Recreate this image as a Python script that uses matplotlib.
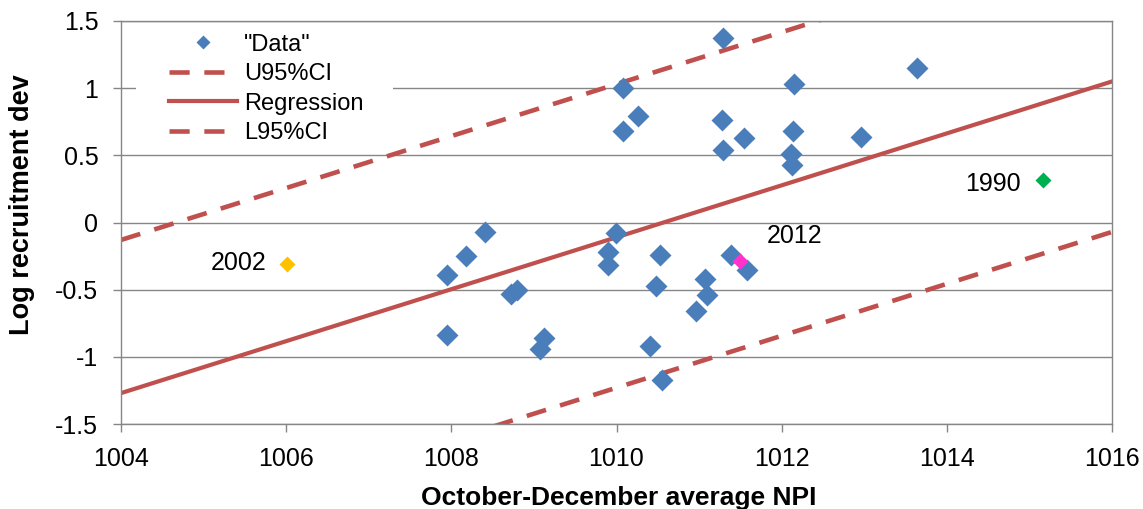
import matplotlib
matplotlib.use("Agg")
import matplotlib.pyplot as plt
from matplotlib.patches import Rectangle
from matplotlib.ticker import FuncFormatter

plt.rcParams['font.family'] = ['Liberation Sans', 'DejaVu Sans']

# Observations: Oct-Dec average NPI vs log recruitment deviation
npi = [1011.29, 1010.08, 1010.26, 1010.08, 1011.28, 1011.54, 1011.29,
       1012.15, 1013.64, 1012.14, 1012.11, 1012.12, 1012.96,
       1008.41, 1008.18, 1007.95, 1008.72, 1008.80, 1007.95, 1009.12, 1009.07,
       1009.99, 1009.90, 1009.90, 1010.53, 1010.48, 1011.07, 1011.10,
       1010.96, 1010.40, 1010.55, 1011.39, 1011.58]
rec = [1.37, 1.00, 0.79, 0.68, 0.76, 0.63, 0.54,
       1.03, 1.15, 0.68, 0.51, 0.43, 0.64,
       -0.07, -0.25, -0.39, -0.53, -0.50, -0.84, -0.86, -0.94,
       -0.08, -0.22, -0.32, -0.24, -0.47, -0.42, -0.54,
       -0.66, -0.92, -1.17, -0.24, -0.35]

# Highlighted years
years = ["2002", "2012", "1990"]
year_npi = [1006.01, 1011.50, 1015.17]
year_rec = [-0.31, -0.29, 0.32]
year_colors = ["#FFC000", "#FF33CC", "#00B050"]

# Regression and 95% confidence bounds (end points)
line_x = [1004, 1016]
reg_y = [-1.27, 1.05]
upper_y = [-0.13, 2.19]
lower_y = [-2.39, -0.07]

xticks = [1004, 1006, 1008, 1010, 1012, 1014, 1016]
yticks = [-1.5, -1, -0.5, 0, 0.5, 1, 1.5]

RED = "#C0504D"
BLUE = "#4A7EBB"
GRID = "#868686"

W, H = 1143, 509
fig = plt.figure(figsize=(W / 100, H / 100), dpi=100)
ax = fig.add_axes([121 / W, 1 - 424 / H, (1112 - 121) / W, (424 - 21) / H])

ax.set_xlim(1004, 1016)
ax.set_ylim(-1.5, 1.5)
ax.set_xticks(xticks)
ax.set_yticks(yticks)
ax.yaxis.set_major_formatter(FuncFormatter(lambda v, p: f"{v:g}"))

ax.grid(axis='y', color=GRID, lw=1.0, zorder=0)
ax.set_axisbelow(True)
for s in ax.spines.values():
    s.set_color(GRID)
    s.set_linewidth(1.0)

ax.tick_params(axis='both', colors=GRID, length=5.8, width=1.0, labelcolor='black', labelsize=18)
ax.tick_params(axis='x', pad=10.5)
ax.tick_params(axis='y', pad=10.5)

# White box behind the legend
ax.add_patch(Rectangle((136, H - 148), 393 - 136, 118, transform=None,
                       facecolor='white', edgecolor='none', zorder=1))

dash = (4.4, 3.2)
u_line, = ax.plot(line_x, upper_y, color=RED, lw=3.3, dashes=dash, zorder=2, label="U95%CI")
r_line, = ax.plot(line_x, reg_y, color=RED, lw=3.0, zorder=2, label="Regression")
l_line, = ax.plot(line_x, lower_y, color=RED, lw=3.3, dashes=dash, zorder=2, label="L95%CI")
pts, = ax.plot(npi, rec, linestyle='none', marker='D', ms=10.7, mec='none',
               color=BLUE, zorder=3, label='"Data"')

for lab, x, y, c in zip(years, year_npi, year_rec, year_colors):
    ax.plot([x], [y], linestyle='none', marker='D', ms=8.5, mec='none', color=c, zorder=4)

ax.annotate("2002", (year_npi[0], year_rec[0]), xytext=(-15, 1), textcoords='offset points',
            ha='right', va='center', fontsize=18)
ax.annotate("2012", (year_npi[1], year_rec[1]), xytext=(19, 18.5), textcoords='offset points',
            ha='left', va='center', fontsize=18)
ax.annotate("1990", (year_npi[2], year_rec[2]), xytext=(-16.5, -3), textcoords='offset points',
            ha='right', va='center', fontsize=18)

leg = ax.legend(handles=[pts, u_line, r_line, l_line], loc='upper left',
                bbox_to_anchor=(152 / W, 1 - 17 / H), bbox_transform=fig.transFigure,
                frameon=False, fontsize=17, handlelength=2.9, handletextpad=0.3,
                labelspacing=0.32, borderpad=0.2, markerscale=0.7)

fig.text(619 / W, 1 - 505 / H, "October-December average NPI", fontsize=19,
         fontweight='bold', ha='center', va='baseline')
fig.text(22 / W, 1 - 204.5 / H, "Log recruitment dev", fontsize=19.5,
         fontweight='bold', ha='center', va='center', rotation=90)

fig.savefig("out.png", dpi=100)
